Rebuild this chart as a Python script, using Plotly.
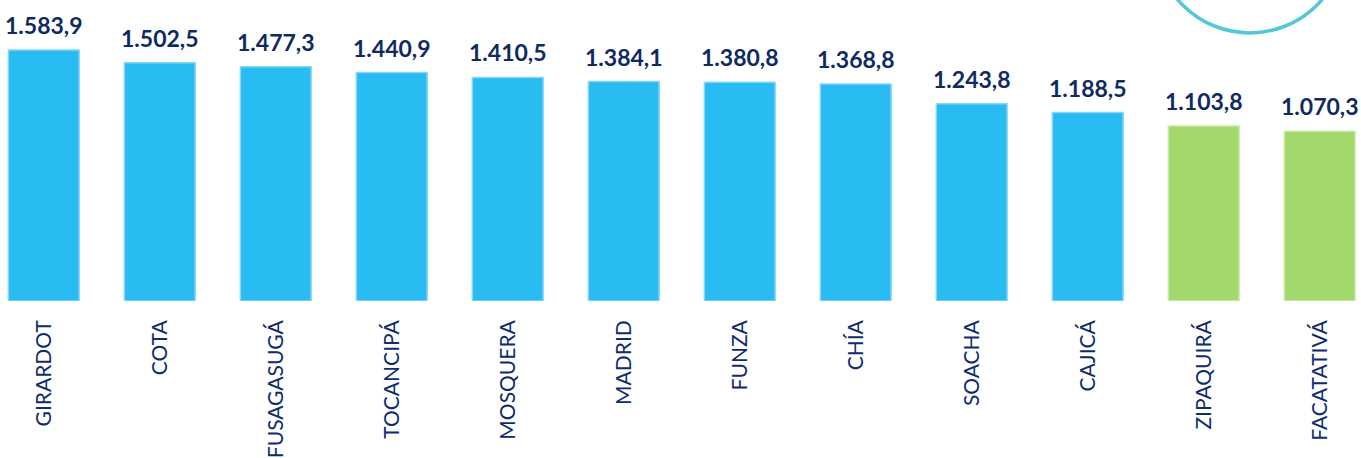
import plotly.graph_objects as go

categories = ["GIRARDOT", "COTA", "FUSAGASUGÁ", "TOCANCIPÁ", "MOSQUERA", "MADRID",
              "FUNZA", "CHÍA", "SOACHA", "CAJICÁ", "ZIPAQUIRÁ", "FACATATIVÁ"]
values = [1583.9, 1502.5, 1477.3, 1440.9, 1410.5, 1384.1,
          1380.8, 1368.8, 1243.8, 1188.5, 1103.8, 1070.3]
groups = ["a"] * 10 + ["b"] * 2

fill = {"a": "#28BCF2", "b": "#A3D96C"}
edge = {"a": "#86D6F6", "b": "#C9EAAA"}


def fmt(v):
    s = f"{v:,.1f}"
    return s.replace(",", "X").replace(".", ",").replace("X", ".")


fig = go.Figure()
fig.add_trace(go.Bar(
    x=categories, y=values,
    marker=dict(color=[fill[g] for g in groups],
                line=dict(color=[edge[g] for g in groups], width=1.5)),
    width=0.61,
    hoverinfo="x+y",
))

for c, v in zip(categories, values):
    fig.add_annotation(x=c, y=v, text=f"<b>{fmt(v)}</b>", showarrow=False,
                       yanchor="bottom", yshift=9,
                       font=dict(family="Lato, Carlito, sans-serif", size=23, color="#0F2A62"))

# decorative circle outline at top right
fig.add_shape(type="circle", xref="paper", yref="paper",
              x0=0.8487, x1=0.988, y0=0.8907, y1=1.52,
              line=dict(color="#52C8D9", width=3.5))

fig.update_layout(
    width=1361, height=458,
    margin=dict(l=0, r=0, t=0, b=157),
    paper_bgcolor="white", plot_bgcolor="white",
    showlegend=False,
    xaxis=dict(range=[-0.3776, 11.356], tickangle=-90, showgrid=False, zeroline=False,
               showline=False, ticks="", ticklabelstandoff=14, automargin=False,
               tickfont=dict(family="Lato, sans-serif", size=21, color="#0E2C6E")),
    yaxis=dict(range=[0, 1899], visible=False, showgrid=False, zeroline=False, automargin=False),
)

fig.write_html("out.html", config={"displayModeBar": False},
               post_script="document.body.style.margin='0';document.body.style.padding='0';")
